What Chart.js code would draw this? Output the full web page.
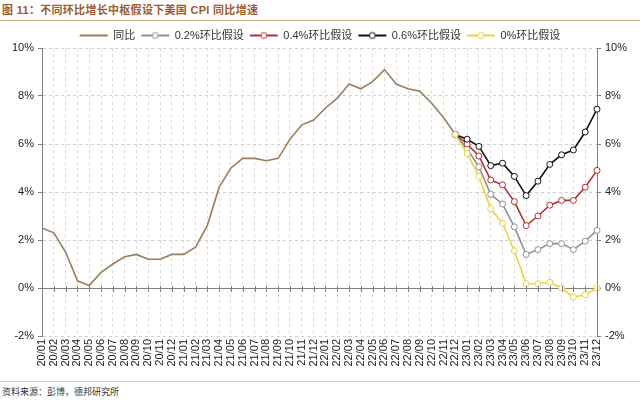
<!DOCTYPE html>
<html>
<head>
<meta charset="utf-8">
<script src="https://cdn.jsdelivr.net/npm/chart.js@4.4.0/dist/chart.umd.min.js"></script>
<style>
 body { margin:0; width:640px; height:400px; background:#fff; position:relative; overflow:hidden;
        font-family:"Liberation Sans","Noto Sans CJK SC",sans-serif; }
 #titulo { position:absolute; left:0; top:0; width:640px; height:21px; border-bottom:1px solid #c9a883;
           font-size:11px; font-weight:bold; color:#9c5b2e; line-height:20px; padding-left:2px; box-sizing:border-box; letter-spacing:0.3px; }
 #caja { position:absolute; left:0; top:24px; width:640px; height:348px; }
 #fuente { position:absolute; left:0; top:381px; width:640px; height:19px; border-top:1px solid #c9c9c9;
           font-size:9px; color:#333; line-height:21px; padding-left:2px; box-sizing:border-box; }
</style>
</head>
<body>
<div id="titulo">图 11：不同环比增长中枢假设下美国 CPI 同比增速</div>
<div id="caja"><canvas id="grafico"></canvas></div>
<div id="fuente">资料来源：彭博，德邦研究所</div>
<script>
const meses = ['20/01','20/02','20/03','20/04','20/05','20/06','20/07','20/08','20/09','20/10','20/11','20/12',
  '21/01','21/02','21/03','21/04','21/05','21/06','21/07','21/08','21/09','21/10','21/11','21/12',
  '22/01','22/02','22/03','22/04','22/05','22/06','22/07','22/08','22/09','22/10','22/11','22/12',
  '23/01','23/02','23/03','23/04','23/05','23/06','23/07','23/08','23/09','23/10','23/11','23/12'];

// 同比 (实际), 20/01 - 22/12
const tongbi = [2.5,2.3,1.5,0.3,0.1,0.65,1.0,1.3,1.4,1.2,1.2,1.4,
  1.4,1.7,2.6,4.2,5.0,5.4,5.4,5.3,5.4,6.2,6.8,7.0,
  7.5,7.9,8.5,8.3,8.6,9.1,8.5,8.3,8.2,7.7,7.1,6.4];

// 假设情景, 22/12 - 23/12
const hb02 = [6.4,5.8,5.05,3.9,3.5,2.55,1.4,1.6,1.85,1.85,1.6,1.95,2.4];
const hb04 = [6.4,6.0,5.5,4.5,4.3,3.6,2.6,3.0,3.45,3.65,3.65,4.2,4.9];
const hb06 = [6.4,6.2,5.9,5.1,5.2,4.65,3.85,4.45,5.15,5.55,5.75,6.5,7.45];
const hb00 = [6.4,5.6,4.65,3.3,2.7,1.55,0.18,0.18,0.24,0.0,-0.38,-0.28,0.0];

const yTicks = [-2,0,2,4,6,8,10];

const inicio = tongbi.length - 1;
function alinear(arr) {
  const out = meses.map(() => null);
  arr.forEach((v, i) => { out[inicio + i] = v; });
  return out;
}

function icono(color, marcador) {
  const c = document.createElement('canvas');
  c.width = 30; c.height = 10;
  const g = c.getContext('2d');
  g.strokeStyle = color; g.lineWidth = 2;
  g.beginPath(); g.moveTo(1, 5); g.lineTo(29, 5); g.stroke();
  if (marcador) {
    g.fillStyle = '#fff'; g.lineWidth = 1;
    g.beginPath(); g.arc(15, 5, 3, 0, Math.PI * 2); g.fill(); g.stroke();
  }
  return c;
}

const colores = ['#9a7d5e', '#8f8f8f', '#b5302c', '#111111', '#ecd046'];
const iconos = [icono(colores[0], false), icono(colores[1], true), icono(colores[2], true),
  icono(colores[3], true), icono(colores[4], true)];

function serie(label, data, color, orden, marcas) {
  return {
    label, data, order: orden,
    borderColor: color, backgroundColor: '#fff',
    borderWidth: 1.6,
    pointRadius: marcas ? 3 : 0,
    pointBorderWidth: 1,
    pointBorderColor: color,
    pointBackgroundColor: '#fff',
    pointHoverRadius: 3,
    tension: 0,
    spanGaps: false
  };
}

// la leyenda ocupa un poco menos de alto
const leyendaCorta = {
  id: 'leyendaCorta',
  beforeInit(chart) {
    const fit = chart.legend.fit;
    chart.legend.fit = function () { fit.call(this); this.height -= 3; };
  }
};

const ejeCero = {
  id: 'ejeCero',
  afterDatasetsDraw(chart) {
    // eje de categorías en 0% con marcas
    const x = chart.scales.x, y = chart.scales.y, ctx = chart.ctx;
    const y0 = y.getPixelForValue(0);
    ctx.save();
    ctx.strokeStyle = '#7f7f7f'; ctx.lineWidth = 1;
    ctx.beginPath();
    for (let i = 0; i < meses.length; i++) {
      const px = Math.round(x.getPixelForValue(i)) + 0.5;
      ctx.moveTo(px, y0 - 2); ctx.lineTo(px, y0 + 4);
    }
    ctx.stroke();
    ctx.restore();
  },
  beforeDatasetsDraw(chart) {
    const y = chart.scales.y, ctx = chart.ctx;
    const y0 = Math.round(y.getPixelForValue(0));
    ctx.save();
    ctx.strokeStyle = '#7f7f7f'; ctx.lineWidth = 1;
    ctx.beginPath();
    ctx.moveTo(chart.chartArea.left, y0 + 0.5); ctx.lineTo(chart.chartArea.right, y0 + 0.5);
    ctx.stroke();
    ctx.restore();
  }
};

const fuente = { family: '"Liberation Sans","Noto Sans CJK SC",sans-serif', size: 11 };

new Chart(document.getElementById('grafico'), {
  type: 'line',
  data: {
    labels: meses,
    datasets: [
      serie('同比', tongbi, colores[0], 5, false),
      serie('0.2%环比假设', alinear(hb02), colores[1], 4, true),
      serie('0.4%环比假设', alinear(hb04), colores[2], 3, true),
      serie('0.6%环比假设', alinear(hb06), colores[3], 2, true),
      serie('0%环比假设', alinear(hb00), colores[4], 1, true)
    ]
  },
  options: {
    responsive: true,
    maintainAspectRatio: false,
    animation: false,
    layout: { padding: 0 },
    plugins: {
      legend: {
        position: 'top',
        labels: {
          font: fuente, color: '#333',
          usePointStyle: true, pointStyleWidth: 28, boxHeight: 10,
          padding: 6,
          sort: (a, b) => a.datasetIndex - b.datasetIndex,
          generateLabels(chart) {
            const base = Chart.defaults.plugins.legend.labels.generateLabels(chart);
            base.forEach(it => { it.pointStyle = iconos[it.datasetIndex]; });
            return base;
          }
        }
      },
      tooltip: { enabled: false }
    },
    scales: {
      x: {
        offset: false,
        ticks: { font: fuente, color: '#222', maxRotation: 90, minRotation: 90, autoSkip: false, padding: 3 },
        grid: { color: '#dcdcdc', drawTicks: false },
        border: { display: false, dash: [3, 3] },
        afterFit(s) { s.height = 36; }
      },
      y: {
        position: 'left',
        min: -2, max: 10,
        afterBuildTicks(s) { s.ticks = yTicks.map(v => ({ value: v })); },
        ticks: { font: fuente, color: '#222', padding: 4, callback: v => v + '%' },
        grid: { color: '#d0d0d0', tickLength: 4, tickColor: '#7f7f7f' },
        border: { display: true, color: '#7f7f7f', width: 1, dash: [3, 3] },
        afterFit(s) { s.width = 42; }
      },
      y2: {
        position: 'right',
        min: -2, max: 10,
        afterBuildTicks(s) { s.ticks = yTicks.map(v => ({ value: v })); },
        ticks: { font: fuente, color: '#222', padding: 4, callback: v => v + '%' },
        grid: { drawOnChartArea: false, tickLength: 4, tickColor: '#7f7f7f' },
        border: { display: true, color: '#7f7f7f', width: 1 },
        afterFit(s) { s.width = 43; }
      }
    }
  },
  plugins: [leyendaCorta, ejeCero]
});
</script>
</body>
</html>
